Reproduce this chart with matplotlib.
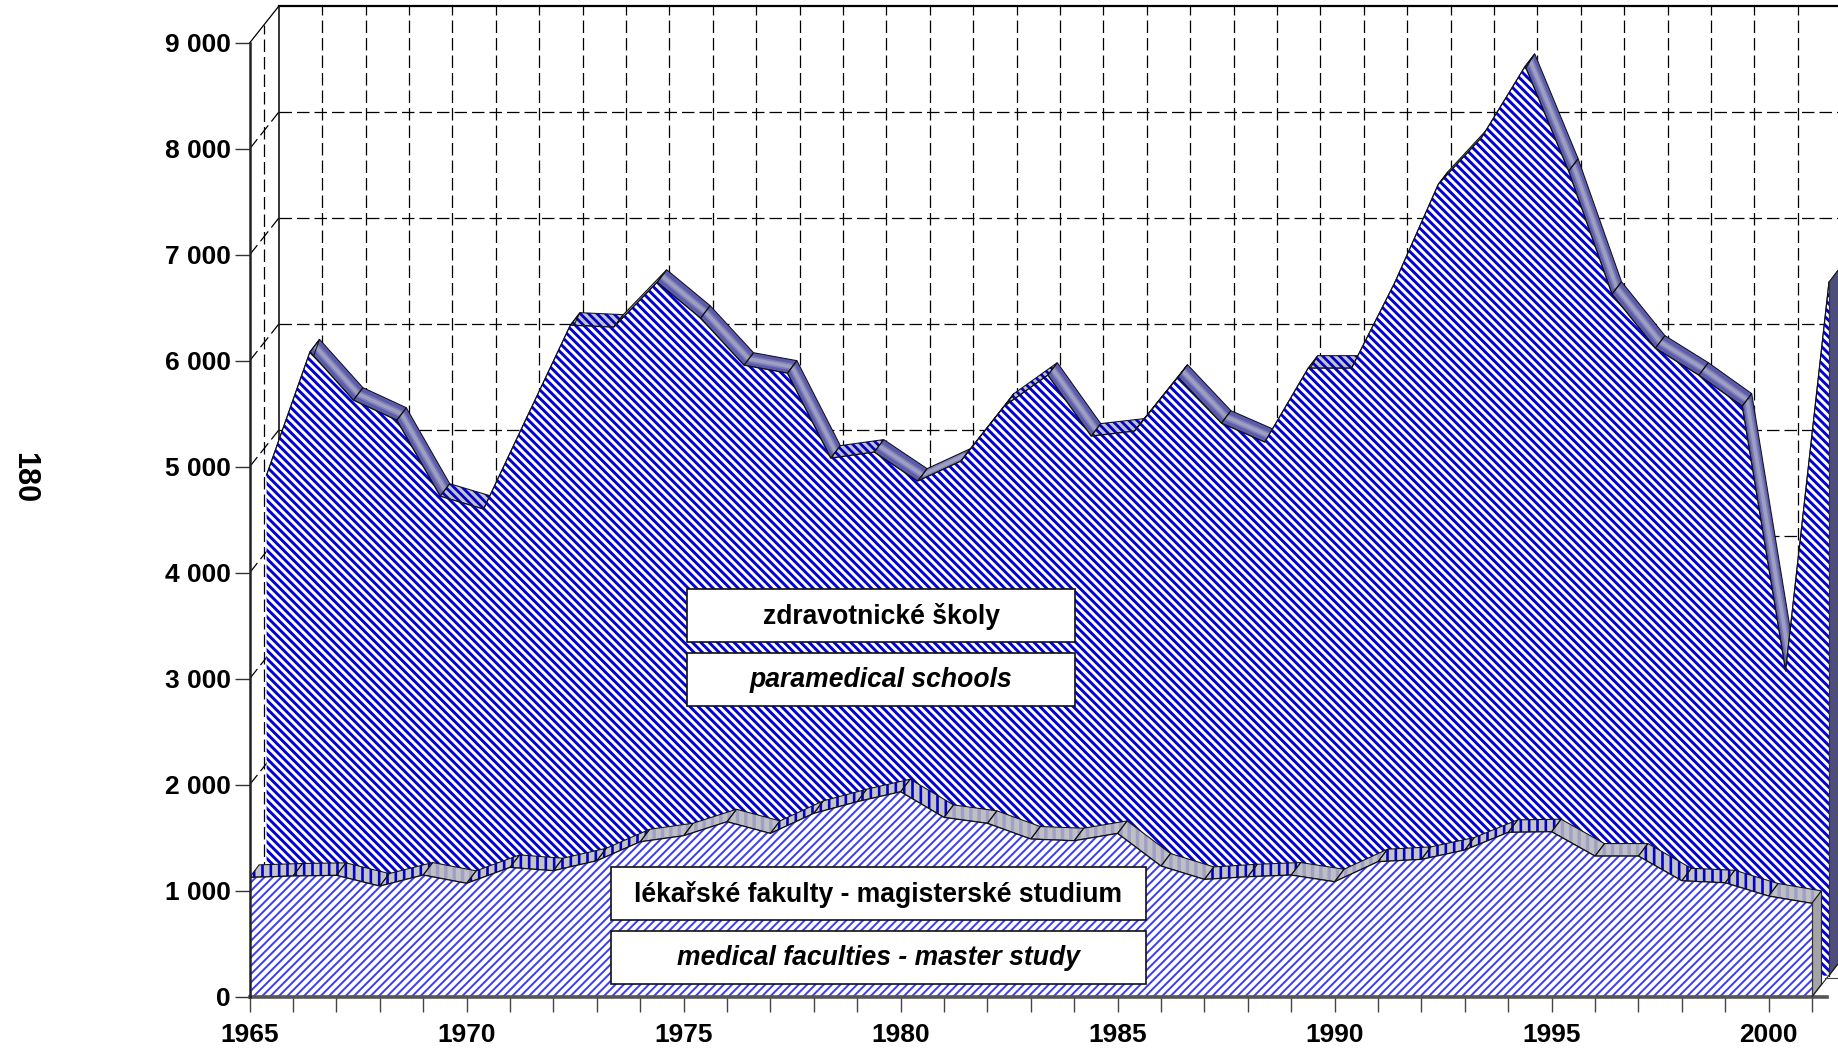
import numpy as np
import matplotlib
matplotlib.use("Agg")
import matplotlib.pyplot as plt
from matplotlib.patches import Polygon, Rectangle

years = list(range(1965, 2002))
paramedical = [4724, 5887, 5431, 5242, 4525, 4403, 5271, 6139, 6120, 6544, 6205, 5761,
               5686, 4884, 4941, 4667, 4856, 5375, 5667, 5092, 5139, 5648, 5214, 5035,
               5733, 5733, 6544, 7469, 7912, 8582, 7592, 6431, 5922, 5667, 5375, 2875, 6544]
medical = [1126, 1139, 1145, 1044, 1148, 1070, 1220, 1189, 1283, 1462, 1519, 1651,
           1541, 1730, 1840, 1934, 1692, 1636, 1488, 1472, 1541, 1233, 1107, 1132,
           1148, 1085, 1274, 1296, 1384, 1551, 1557, 1327, 1327, 1094, 1075, 950, 881]
# look of each top-surface segment: c = crisp hatch, s = soft shading
paramedical_top = list("ssssc" "ssc" "sssss" "c" "sss" "c" "s" "c" "ssss" "c" "sssssssssss")
medical_top = list("ccccs" "cccc" "sss" "cccc" "ssssss" "cc" "ss" "cccc" "ss" "ccc" "s")
y_ticks = [0, 1000, 2000, 3000, 4000, 5000, 6000, 7000, 8000, 9000]
y_labels = ["0", "1 000", "2 000", "3 000", "4 000", "5 000", "6 000", "7 000", "8 000", "9 000"]
x_major = [1965, 1970, 1975, 1980, 1985, 1990, 1995, 2000]
label_back = ["zdravotnické školy", "paramedical schools"]
label_front = ["lékařské fakulty - magisterské studium", "medical faculties - master study"]
page_number = "180"

W, H = 1838, 1049
PXX, PXY = 43.4, 0.10597
LEFT, BASE, TOP = 249.6, 996.7, 6.3

plt.rcParams["font.family"] = ["Liberation Sans", "DejaVu Sans"]
fig = plt.figure(figsize=(W / 100, H / 100), dpi=100, facecolor="white")
ax = fig.add_axes([LEFT / W, 1 - BASE / H, (W - LEFT) / W, (BASE - TOP) / H])
ax.set_xlim(1965, 1965 + (W - LEFT) / PXX)
ax.set_ylim(0, (BASE - TOP) / PXY)
ax.patch.set_visible(False)

def ox(p):
    return p / PXX

def oy(p):
    return p / PXY

def hatch_poly(xy, hatch_lw, **kw):
    # the hatch line width of a patch is taken from rcParams when it is created
    with plt.rc_context({"hatch.linewidth": hatch_lw}):
        return Polygon(xy, closed=True, **kw)

GRID = dict(color="#000000", lw=0.9, ls=(0, (10, 4)), zorder=1)
WX, WY = ox(29.1), oy(36.7)
ymax = ax.get_ylim()[1]
xmax = ax.get_xlim()[1]

for yr in years[1:]:
    ax.plot([yr + WX, yr + WX], [WY, ymax], **GRID)
for v in y_ticks[1:-1]:
    ax.plot([1965 + WX, xmax], [v + WY, v + WY], **GRID)
    ax.plot([1965, 1965 + WX], [v, v + WY], **GRID)
ax.plot([1965 + ox(14), 1965 + ox(14)], [oy(18), 9000 + oy(18)], **GRID)
ax.plot([1965 + WX, 1965 + WX], [WY, ymax], color="black", lw=1.1, zorder=1.1)
ax.plot([1965 + WX, xmax], [ymax, ymax], color="black", lw=1.6, zorder=1.1, clip_on=False)
ax.plot([1965, 1965 + WX], [9000, ymax], color="black", lw=0.9, zorder=1.1, clip_on=False)

def series(vals, off_x, off_y, face_color, hatch, hatch_lw, styles, kind, z):
    xs = np.array(years, float) + off_x
    ys = np.array(vals, float) + off_y
    dx, dy = ox(9.5), oy(12.5)
    for i, st in enumerate(styles):
        quad = [(xs[i], ys[i]), (xs[i + 1], ys[i + 1]),
                (xs[i + 1] + dx, ys[i + 1] + dy), (xs[i] + dx, ys[i] + dy)]
        if kind == "back":
            if st == "c":
                ax.add_patch(hatch_poly(quad, 2.0, facecolor="#c4c4c4", edgecolor="#0000d0",
                                        hatch="\\" * 4, lw=0, zorder=z))
            else:
                base = Polygon(quad, closed=True, facecolor="#5c5cae", lw=0, zorder=z)
                ax.add_patch(base)
                for lw_, a_ in ((5.0, 0.3), (2.6, 0.4)):
                    ln, = ax.plot([xs[i] + dx / 2, xs[i + 1] + dx / 2],
                                  [ys[i] + dy / 2, ys[i + 1] + dy / 2],
                                  color="#d0d0d0", lw=lw_, alpha=a_, solid_capstyle="butt", zorder=z)
                    ln.set_clip_path(base)
        else:
            if st == "c":
                ax.add_patch(hatch_poly(quad, 1.9, facecolor="#c4c4c4", edgecolor="#0000d0",
                                        hatch="||", lw=0, zorder=z))
            else:
                ax.add_patch(hatch_poly(quad, 2.5, facecolor="#bfbfc6", edgecolor="#a0a0c4",
                                        hatch="||", lw=0, zorder=z))
        ax.add_patch(Polygon(quad, closed=True, fill=False, edgecolor="#111111", lw=0.75, zorder=z + 0.1))
    # right end face
    side = [(xs[-1], off_y), (xs[-1] + dx, off_y + dy), (xs[-1] + dx, ys[-1] + dy), (xs[-1], ys[-1])]
    ax.add_patch(Polygon(side, closed=True, facecolor="#4e4e7c" if kind == "back" else "#a4a4a8",
                         edgecolor="#222222", lw=0.8, zorder=z + 0.2))
    # front face
    face = [(xs[0], off_y)] + list(zip(xs, ys)) + [(xs[-1], off_y)]
    ax.add_patch(hatch_poly(face, hatch_lw, facecolor="white", edgecolor=face_color,
                            hatch=hatch, lw=0, zorder=z + 0.3))
    ax.plot(xs, ys, color="#111111", lw=0.9, zorder=z + 0.4)
    ax.plot([xs[-1], xs[-1]], [off_y, ys[-1]], color="#333333", lw=0.9, zorder=z + 0.4)

series(paramedical, ox(17), oy(21), "#0000dc", "\\" * 4, 2.1, paramedical_top, "back", 2)
series(medical, 0, 0, "#3c3cf0", "/" * 4, 1.4, medical_top, "front", 4)

# floor
ax.plot([1965, 2001 + ox(15)], [0, 0], color="#555555", lw=2.6, zorder=6, clip_on=False)
ax.plot([2001, xmax], [0, oy((xmax - 2001) * PXX * 36.7 / 29.1)], color="#222222", lw=0.8, zorder=6)
ax.plot([2001 + ox(13), xmax], [oy(18.5), oy(18.5)], color="#444444", lw=0.8, zorder=6)

# axes furniture
for s in ("top", "right", "bottom"):
    ax.spines[s].set_visible(False)
ax.spines["left"].set_bounds(0, 9000)
ax.spines["left"].set_linewidth(1.8)
ax.spines["left"].set_color("#222222")
ax.spines["left"].set_zorder(7)
ax.set_yticks(y_ticks)
ax.set_yticklabels(y_labels, fontsize=19, fontweight="bold")
ax.set_xticks(x_major)
ax.set_xticklabels([str(y) for y in x_major], fontsize=19, fontweight="bold")
ax.set_xticks(years, minor=True)
ax.tick_params(axis="y", length=11, width=1.0, pad=2.5, color="#333333")
ax.tick_params(axis="x", which="both", length=11, width=1.0, pad=8, color="#444444")

# label boxes
def px_box(x0, y0, x1, y1, text, style):
    fig.add_artist(Rectangle((x0 / W, 1 - y1 / H), (x1 - x0) / W, (y1 - y0) / H,
                             transform=fig.transFigure, facecolor="white",
                             edgecolor="#111111", lw=1.2, zorder=10))
    fig.text((x0 + x1) / 2 / W, 1 - (y0 + y1 + 2) / 2 / H, text, ha="center", va="center",
             fontsize=19.1, fontweight="bold", style=style, color="black", zorder=11)

px_box(687.3, 589.3, 1075, 642.3, label_back[0], "normal")
px_box(687.3, 652.7, 1075, 706, label_back[1], "italic")
px_box(611, 866.7, 1146, 920, label_front[0], "normal")
px_box(611, 931, 1146, 983.5, label_front[1], "italic")

fig.text(24.6 / W, 1 - 478 / H, page_number, rotation=270, ha="center", va="center",
         fontsize=22, fontweight="bold", color="black")

fig.savefig("out.png", dpi=100, facecolor="white")
